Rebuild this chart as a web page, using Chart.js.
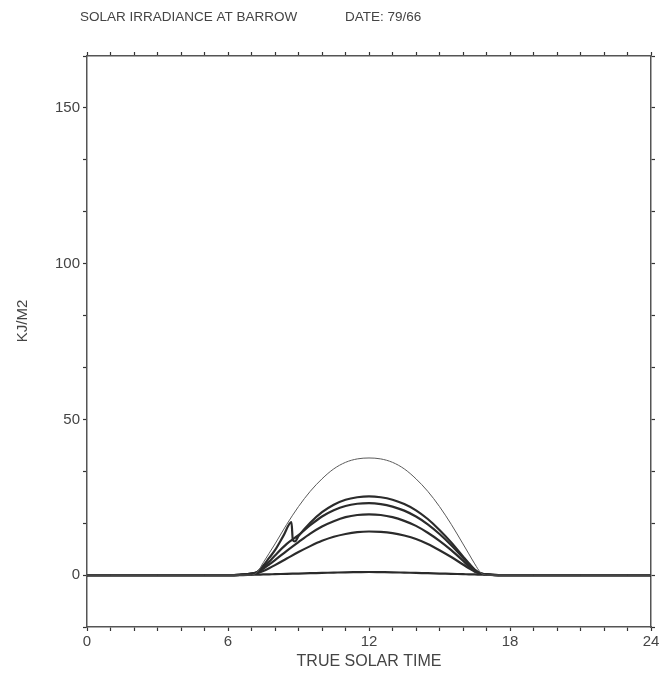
<!DOCTYPE html>
<html>
<head>
<meta charset="utf-8">
<script src="https://cdn.jsdelivr.net/npm/chart.js@4/dist/chart.umd.min.js"></script>
<style>
  html, body { margin: 0; padding: 0; background: #fff; }
  canvas { display: block; }
</style>
</head>
<body>
<canvas id="solarChart" width="663" height="677"></canvas>
<script>
// hours of true solar time (shared by most curves)
const hours = [0, 1, 2, 3, 4, 5, 6, 6.5, 7, 7.25, 7.5, 7.75, 8, 8.5, 9, 9.5, 10, 10.5, 11, 11.5, 12,
  12.5, 13, 13.5, 14, 14.5, 15, 15.5, 16, 16.25, 16.5, 16.75, 17, 17.5, 18, 19, 20, 21, 22, 23, 24];

// thin upper curve
const clearSky = [0, 0, 0, 0, 0, 0, 0, 0, 0, 1, 4, 7, 10, 16.3, 22, 26.9, 30.9, 34.1, 36.2, 37.3, 37.6,
  37.3, 36.2, 34.1, 30.9, 26.9, 22, 16.3, 10, 6.8, 3.6, 0.8, 0, 0, 0, 0, 0, 0, 0, 0, 0];

// the top thick curve has a break near 8.7 h, so it keeps its own hours
const hoursA = [0, 1, 2, 3, 4, 5, 6, 6.5, 7, 7.25, 7.5, 7.75, 8, 8.35, 8.7, 8.76, 8.85, 9, 9.5, 10, 10.5,
  11, 11.5, 12, 12.5, 13, 13.5, 14, 14.5, 15, 15.5, 16, 16.25, 16.5, 16.75, 17, 17.5, 18, 19, 20, 21, 22, 23, 24];
const curveA = [0, 0, 0, 0, 0, 0, 0, 0.1, 0.5, 1, 3, 5.5, 8, 12.5, 17, 11.2, 10.8, 12.5, 16.8, 20.2, 22.6,
  24.2, 25, 25.3, 25, 24.2, 22.8, 20.8, 18, 14.5, 10.5, 6, 3.8, 1.8, 0.6, 0.2, 0, 0, 0, 0, 0, 0, 0, 0];

const curveB = [0, 0, 0, 0, 0, 0, 0, 0.1, 0.5, 1, 2.5, 4.3, 6.3, 10, 12.8, 16, 18.8, 20.8, 22.2, 22.9, 23.1,
  22.8, 22, 20.7, 18.8, 16.3, 13.2, 9.6, 5.6, 3.5, 1.6, 0.5, 0.2, 0, 0, 0, 0, 0, 0, 0, 0];
const curveC = [0, 0, 0, 0, 0, 0, 0, 0.1, 0.4, 0.8, 2, 3.4, 4.8, 7.8, 10.6, 13.3, 15.6, 17.3, 18.6, 19.3, 19.5,
  19.3, 18.6, 17.4, 15.8, 13.6, 11, 8, 4.6, 2.8, 1.3, 0.5, 0.2, 0, 0, 0, 0, 0, 0, 0, 0];
const curveD = [0, 0, 0, 0, 0, 0, 0, 0.1, 0.4, 0.6, 1.3, 2.2, 3.2, 5.3, 7.4, 9.3, 11, 12.3, 13.2, 13.8, 14,
  13.9, 13.5, 12.7, 11.6, 10, 8, 5.8, 3.4, 2.2, 1.1, 0.5, 0.2, 0, 0, 0, 0, 0, 0, 0, 0];
const curveE = [0, 0, 0, 0, 0, 0, 0, 0, 0.1, 0.15, 0.2, 0.25, 0.3, 0.4, 0.5, 0.6, 0.7, 0.8, 0.9, 0.95, 1,
  0.95, 0.9, 0.8, 0.7, 0.6, 0.5, 0.4, 0.3, 0.25, 0.2, 0.15, 0.1, 0, 0, 0, 0, 0, 0, 0, 0];

// axis ticks
const xLabelled = [0, 6, 12, 18, 24];
const yTicks = [-16.667, 0, 16.667, 33.333, 50, 66.667, 83.333, 100, 116.667, 133.333, 150, 166.667];
const yLabelled = [0, 50, 100, 150];

const FONT = '"Liberation Sans", Arial, sans-serif';
const INK = '#444';

function toPoints(xs, ys) {
  return xs.map((h, i) => ({ x: h, y: ys[i] }));
}

function thick(vals, xs) {
  return {
    data: toPoints(xs || hours, vals),
    borderColor: '#2b2b2b',
    borderWidth: 2.2,
    pointRadius: 0,
    cubicInterpolationMode: 'monotone',
  };
}

const textPlugin = {
  id: 'texts',
  afterDraw(chart) {
    const ctx = chart.ctx;
    const area = chart.chartArea;
    ctx.save();
    ctx.fillStyle = INK;
    ctx.font = '13.5px ' + FONT;
    ctx.textBaseline = 'middle';
    ctx.textAlign = 'left';
    ctx.fillText('SOLAR IRRADIANCE AT BARROW', 80, 17);
    ctx.fillText('DATE: 79/66', 345, 17);
    ctx.font = '16px ' + FONT;
    ctx.textAlign = 'center';
    ctx.fillText('TRUE SOLAR TIME', (area.left + area.right) / 2, 662);
    ctx.font = '15px ' + FONT;
    ctx.translate(23, 321);
    ctx.rotate(-Math.PI / 2);
    ctx.fillText('KJ/M2', 0, 0);
    ctx.restore();
  },
};

function setYTicks(scale) {
  scale.ticks = yTicks.map(v => ({ value: v }));
}

const gridOpts = {
  drawOnChartArea: false,
  drawTicks: true,
  tickLength: 4,
  tickColor: '#333',
  tickWidth: 1.2,
};
const borderOpts = { display: true, color: '#555', width: 1.5 };

const ctx = document.getElementById('solarChart').getContext('2d');
new Chart(ctx, {
  type: 'line',
  data: {
    datasets: [
      {
        data: toPoints(hours, clearSky),
        borderColor: '#5a5a5a',
        borderWidth: 1,
        pointRadius: 0,
        cubicInterpolationMode: 'monotone',
      },
      thick(curveA, hoursA),
      thick(curveB),
      thick(curveC),
      thick(curveD),
      thick(curveE),
    ],
  },
  options: {
    responsive: false,
    animation: false,
    devicePixelRatio: 1,
    layout: { padding: 0 },
    plugins: { legend: { display: false }, tooltip: { enabled: false }, title: { display: false } },
    scales: {
      x: {
        type: 'linear', position: 'bottom', min: 0, max: 24,
        grid: gridOpts, border: borderOpts,
        ticks: {
          stepSize: 1, autoSkip: false, maxRotation: 0, padding: 2,
          color: INK, font: { family: FONT, size: 15 },
          callback: v => (xLabelled.includes(v) ? String(v) : ''),
        },
        afterFit: s => { s.height = 50; },
      },
      x2: {
        type: 'linear', position: 'top', min: 0, max: 24,
        grid: gridOpts, border: borderOpts,
        ticks: { stepSize: 1, autoSkip: false, maxRotation: 0, callback: () => '' },
        afterFit: s => { s.height = 56; },
      },
      y: {
        type: 'linear', position: 'left', min: -16.667, max: 166.667,
        grid: gridOpts, border: borderOpts,
        afterBuildTicks: setYTicks,
        ticks: {
          autoSkip: false, padding: 3,
          color: INK, font: { family: FONT, size: 15 },
          callback: v => {
            const r = Math.round(v);
            return Math.abs(v - r) < 0.01 && yLabelled.includes(r) ? String(r) : '';
          },
        },
        afterFit: s => { s.width = 87; },
      },
      y2: {
        type: 'linear', position: 'right', min: -16.667, max: 166.667,
        grid: gridOpts, border: borderOpts,
        afterBuildTicks: setYTicks,
        ticks: { autoSkip: false, callback: () => '' },
        afterFit: s => { s.width = 12; },
      },
    },
  },
  plugins: [textPlugin],
});
</script>
</body>
</html>
